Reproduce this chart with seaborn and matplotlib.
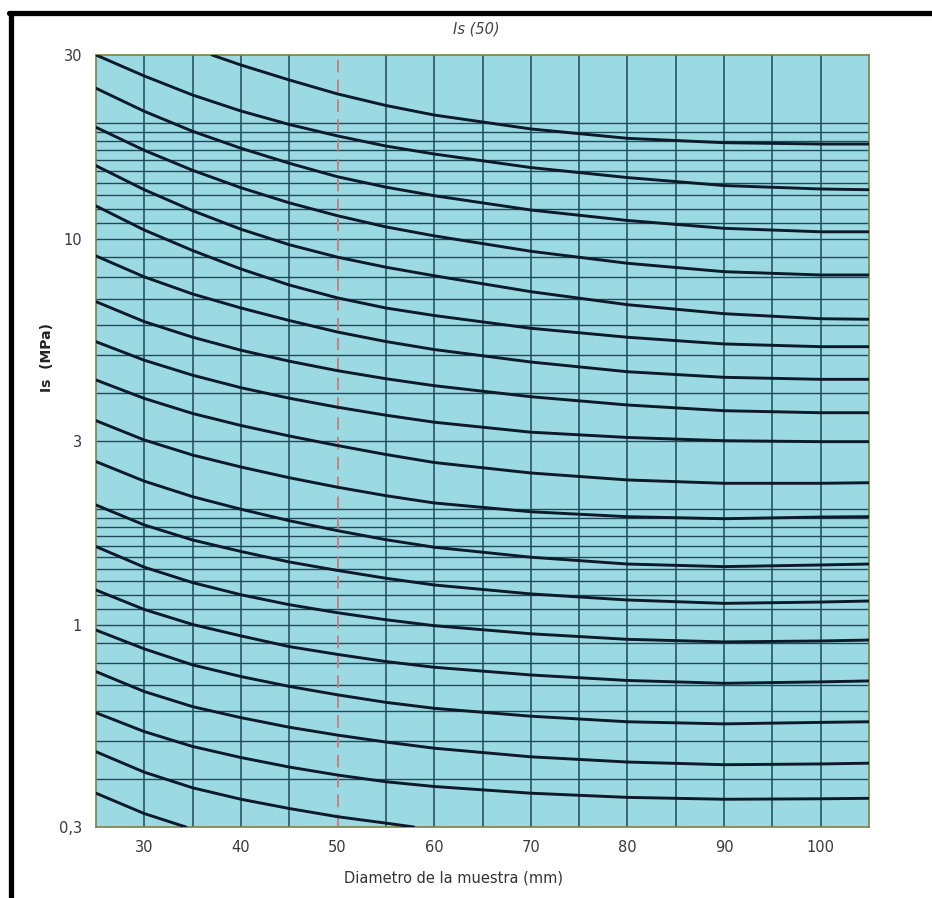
import matplotlib
matplotlib.use("Agg")
import matplotlib.pyplot as plt
from matplotlib.lines import Line2D
from matplotlib.ticker import FixedLocator, FixedFormatter, NullLocator
import pandas as pd
import seaborn as sns

# ---------------- data ----------------
diam = [25, 30, 35, 40, 45, 50, 55, 60, 70, 80, 90, 100, 105]

diam_c00 = [37, 40, 45, 50, 55, 60, 70, 80, 90, 100, 105]
is_c00 = [30.0, 28.26, 25.85, 23.78, 22.2, 20.97, 19.30, 18.25, 17.78, 17.64, 17.64]

is_c01 = [30.0, 26.47, 23.63, 21.48, 19.82, 18.51, 17.43, 16.62, 15.33, 14.44, 13.77, 13.49, 13.43]
is_c02 = [24.60, 21.44, 19.03, 17.20, 15.73, 14.51, 13.64, 12.96, 11.90, 11.18, 10.67, 10.45, 10.45]
is_c03 = [19.49, 16.99, 15.08, 13.59, 12.42, 11.50, 10.76, 10.20, 9.303, 8.661, 8.237, 8.077, 8.077]
is_c04 = [15.50, 13.43, 11.85, 10.61, 9.675, 8.982, 8.460, 8.040, 7.311, 6.765, 6.411, 6.222, 6.201]
is_c05 = [12.19, 10.56, 9.345, 8.370, 7.608, 7.044, 6.633, 6.342, 5.877, 5.571, 5.352, 5.266, 5.266]
is_c06 = [9.048, 7.984, 7.210, 6.633, 6.156, 5.747, 5.430, 5.177, 4.806, 4.535, 4.387, 4.334, 4.334]
is_c07 = [6.888, 6.113, 5.572, 5.156, 4.829, 4.563, 4.350, 4.173, 3.907, 3.719, 3.594, 3.551, 3.551]
is_c08 = [5.424, 4.857, 4.442, 4.123, 3.872, 3.670, 3.499, 3.356, 3.162, 3.064, 3.005, 2.988, 2.988]
is_c09 = [4.317, 3.867, 3.535, 3.291, 3.091, 2.920, 2.768, 2.639, 2.479, 2.378, 2.331, 2.331, 2.339]
is_c10 = [3.387, 3.018, 2.759, 2.569, 2.410, 2.277, 2.165, 2.073, 1.967, 1.910, 1.887, 1.906, 1.910]
is_c11 = [2.653, 2.361, 2.152, 1.997, 1.865, 1.757, 1.665, 1.592, 1.500, 1.440, 1.418, 1.432, 1.440]
is_c12 = [2.048, 1.818, 1.662, 1.552, 1.458, 1.386, 1.323, 1.271, 1.205, 1.162, 1.139, 1.148, 1.155]
is_c13 = [1.598, 1.413, 1.289, 1.199, 1.130, 1.077, 1.033, 0.997, 0.950, 0.919, 0.905, 0.910, 0.915]
is_c14 = [1.233, 1.098, 1.004, 0.938, 0.880, 0.840, 0.805, 0.778, 0.743, 0.719, 0.707, 0.713, 0.717]
is_c15 = [0.971, 0.868, 0.789, 0.736, 0.694, 0.660, 0.631, 0.609, 0.581, 0.562, 0.555, 0.560, 0.562]
is_c16 = [0.758, 0.673, 0.615, 0.576, 0.544, 0.519, 0.498, 0.480, 0.456, 0.442, 0.435, 0.437, 0.439]
is_c17 = [0.593, 0.530, 0.485, 0.454, 0.429, 0.409, 0.393, 0.382, 0.367, 0.358, 0.354, 0.355, 0.356]

diam_c18 = [25, 30, 35, 40, 45, 50, 55, 57.9]
is_c18 = [0.470, 0.416, 0.379, 0.354, 0.335, 0.319, 0.307, 0.300]

diam_c19 = [25, 30, 34.3]
is_c19 = [0.367, 0.325, 0.300]

# grid / ticks
y_ticks = [0.3, 1, 3, 10, 30]
y_tick_labels = ["0,3", "1", "3", "10", "30"]
x_ticks = [30, 40, 50, 60, 70, 80, 90, 100]
h_grid = [20, 19, 18, 17, 16, 15, 14, 13, 12, 11, 10, 9, 8, 7, 6, 5, 4, 3,
          2.0, 1.9, 1.8, 1.7, 1.6, 1.5, 1.4, 1.3, 1.2, 1.1, 1.0,
          0.9, 0.8, 0.7, 0.6, 0.5, 0.4]
v_grid = [30, 35, 40, 45, 55, 60, 65, 70, 75, 80, 85, 90, 95, 100]
ref_diam = 50

# ---------------- build long table ----------------
series = [(diam_c00, is_c00)] + [(diam, c) for c in [
    is_c01, is_c02, is_c03, is_c04, is_c05, is_c06, is_c07, is_c08, is_c09,
    is_c10, is_c11, is_c12, is_c13, is_c14, is_c15, is_c16, is_c17]] + \
    [(diam_c18, is_c18), (diam_c19, is_c19)]
rows = []
for k, (xs, ys) in enumerate(series):
    for xv, yv in zip(xs, ys):
        rows.append({"diam": xv, "Is": yv, "curve": k})
df = pd.DataFrame(rows)

# ---------------- figure ----------------
sns.set_theme(style="white")
plt.rcParams["font.family"] = ["DejaVu Sans"]

W, H = 932, 898
fig = plt.figure(figsize=(W / 100, H / 100), dpi=100)
fig.patch.set_facecolor("white")
left, right, top, bottom = 96, 869, 55, 827
ax = fig.add_axes([left / W, 1 - bottom / H, (right - left) / W, (bottom - top) / H])
ax.set_facecolor("#9cdae3")

ax.set_yscale("log")
ax.set_xlim(25, 105)
ax.set_ylim(0.3, 30)

grid_col = "#1e4a5c"
for g in h_grid:
    ax.axhline(g, color=grid_col, lw=1.0, zorder=1)
for g in v_grid:
    ax.axvline(g, color=grid_col, lw=1.1, zorder=1)
ax.axvline(ref_diam, color="#cc7a7a", lw=1.3, ls=(0, (7, 4)), zorder=1.5)

sns.lineplot(data=df, x="diam", y="Is", units="curve", estimator=None, sort=False,
             color="#0c1a2a", lw=2.1, ax=ax, legend=False, zorder=3)

ax.yaxis.set_major_locator(FixedLocator(y_ticks))
ax.yaxis.set_major_formatter(FixedFormatter(y_tick_labels))
ax.yaxis.set_minor_locator(NullLocator())
ax.set_xticks(x_ticks)
ax.set_xticklabels([str(v) for v in x_ticks])
ax.tick_params(axis="both", length=0, labelsize=10.5, labelcolor="#3a3a3a")
ax.tick_params(axis="x", pad=9)
ax.tick_params(axis="y", pad=10)
ax.set_xlabel("")
ax.set_ylabel("")

for s in ax.spines.values():
    s.set_color("#7d8046")
    s.set_linewidth(1.2)

# texts
fig.text(476 / W, 1 - 29 / H, "Is (50)", ha="center", va="center",
         fontsize=10.5, style="italic", color="#444444")
fig.text(47 / W, 1 - 358 / H, "Is  (MPa)", ha="center", va="center",
         rotation=90, fontsize=10, fontweight="bold", color="#222222")
fig.text(454 / W, 1 - 878 / H, "Diametro de la muestra (mm)", ha="center",
         va="center", fontsize=10.5, color="#333333")

# black frame (top and left) of the screenshot
fig.add_artist(Line2D([9 / W, 1], [1 - 12.5 / H, 1 - 12.5 / H],
                      transform=fig.transFigure, color="black", lw=3.8))
fig.add_artist(Line2D([11 / W, 11 / W], [0, 1 - 12.5 / H],
                      transform=fig.transFigure, color="black", lw=3.8))

fig.savefig("out.png", dpi=100, facecolor="white")
